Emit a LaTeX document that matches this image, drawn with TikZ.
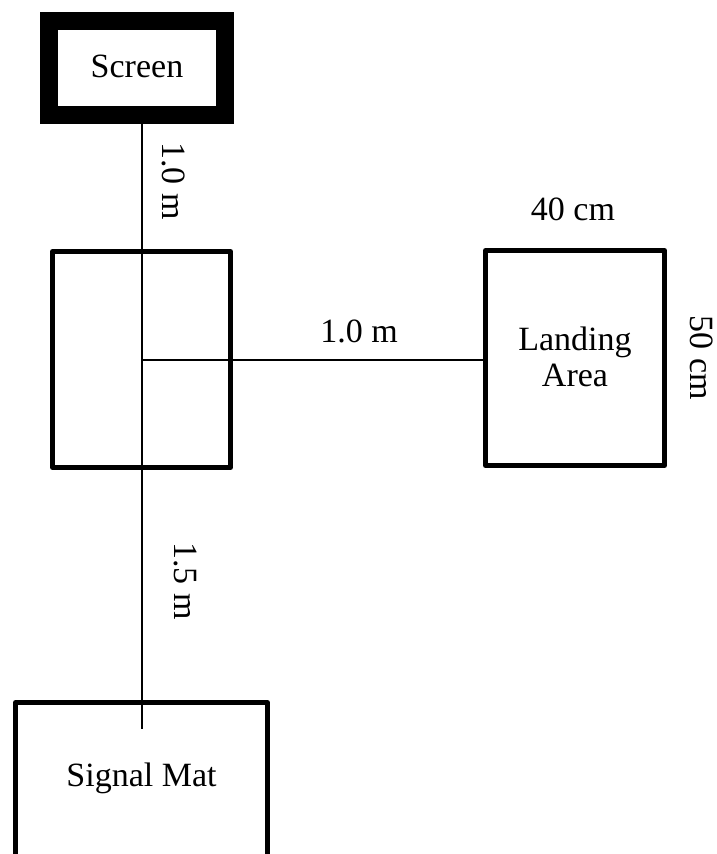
\documentclass[tikz,border=0pt]{standalone}
\usepackage{fontspec}
\setmainfont{Liberation Serif}
\begin{document}
\begin{tikzpicture}[x=1pt,y=-1pt,
  every node/.style={font=\fontsize{34}{38}\selectfont, inner sep=0pt, outer sep=0pt},
  box/.style={draw, line width=5pt, rectangle, line join=round},
  conn/.style={draw, line width=2pt},
  dimlabel/.style={anchor=center}]
\useasboundingbox (0,0) rectangle (717,854);
% boxes
\node[draw, line width=18pt, rectangle, minimum width=176pt, minimum height=94pt] (screen) at (137,67.5) {};
\node (screentxt) at (137,66) {Screen};
\node[box, minimum width=178pt, minimum height=216pt] (mid) at (141.5,359.5) {};
\node[box, minimum width=179pt, minimum height=215pt] (land) at (575,358) {};
\node[align=center] (landtxt) at (575,357) {Landing\\[-2pt]Area};
\node[box, minimum width=252pt, minimum height=154pt] (sig) at (141.5,779.5) {};
\node (sigtxt) at (141.5,778) {Signal Mat};
% connectors
\coordinate (vend) at (142,729);
\draw[conn] (screen.south -| vend) -- (vend);
\draw[conn] (mid.center -| vend) -- (mid.center -| land.west);
% labels
\node[dimlabel, rotate=-90] (l1) at (174,181) {1.0 m};
\node[dimlabel] (l2) at (359,331) {1.0 m};
\node[dimlabel, rotate=-90] (l3) at (185,581) {1.5 m};
\node[dimlabel] (l4) at (573,209) {40 cm};
\node[dimlabel, rotate=-90] (l5) at (702,358) {50 cm};
\end{tikzpicture}
\end{document}
